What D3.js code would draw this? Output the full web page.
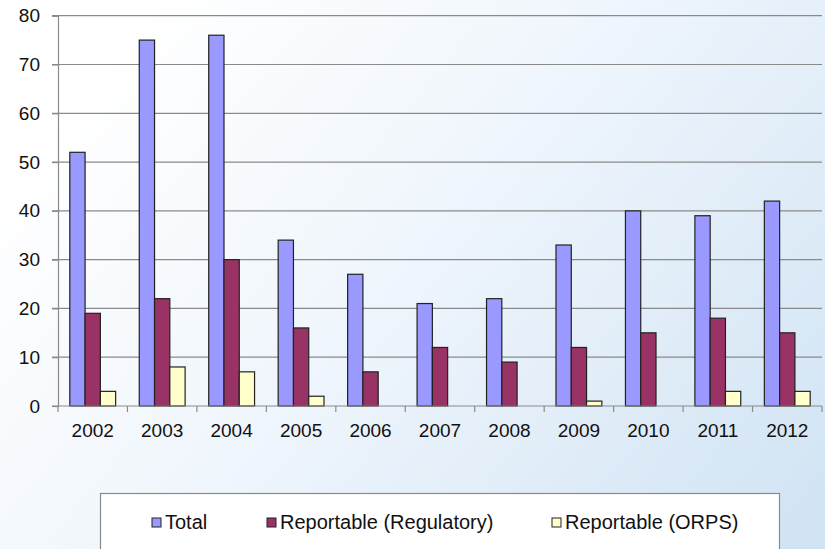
<!DOCTYPE html>
<html>
<head>
<meta charset="utf-8">
<script src="https://cdn.jsdelivr.net/npm/d3@7"></script>
<style>
  body { margin: 0; padding: 0; overflow: hidden; }
  svg { display: block; font-family: "Liberation Sans", Arial, sans-serif; }
</style>
</head>
<body>
<div id="bar-chart"></div>
<script>
// categories and series values
var years = ["2002", "2003", "2004", "2005", "2006", "2007", "2008", "2009", "2010", "2011", "2012"];
var total = [52, 75, 76, 34, 27, 21, 22, 33, 40, 39, 42];
var regulatory = [19, 22, 30, 16, 7, 12, 9, 12, 15, 18, 15];
var orps = [3, 8, 7, 2, 0, 0, 0, 1, 0, 3, 3];
var seriesNames = ["Total", "Reportable (Regulatory)", "Reportable (ORPS)"];
var yTicks = [0, 10, 20, 30, 40, 50, 60, 70, 80];

var colors = ["#9999ff", "#993366", "#ffffcc"];
var seriesValues = [total, regulatory, orps];

var width = 825, height = 549;
var margin = {top: 15.7, right: 3, bottom: 143, left: 58};

var svg = d3.select("#bar-chart").append("svg")
    .attr("width", width)
    .attr("height", height);

// background gradient
var defs = svg.append("defs");
var grad = defs.append("linearGradient")
    .attr("id", "bg")
    .attr("x1", "0").attr("y1", "0.35")
    .attr("x2", "1").attr("y2", "0.9");
grad.append("stop").attr("offset", "0").attr("stop-color", "#ffffff");
grad.append("stop").attr("offset", "0.45").attr("stop-color", "#eef5fc");
grad.append("stop").attr("offset", "1").attr("stop-color", "#d2e4f4");

svg.append("rect")
    .attr("width", width)
    .attr("height", height)
    .attr("fill", "url(#bg)");

// scales
var x0 = d3.scaleBand()
    .domain(years)
    .range([margin.left, width - margin.right])
    .paddingInner(0.34)
    .paddingOuter(0.17);

var x1 = d3.scaleBand()
    .domain(d3.range(seriesNames.length))
    .range([0, x0.bandwidth()]);

var y = d3.scaleLinear()
    .domain([0, 80])
    .range([height - margin.bottom, margin.top]);

// gridlines
svg.append("g")
    .selectAll("line")
    .data(yTicks.slice(1))
    .enter().append("line")
    .attr("x1", margin.left - 6)
    .attr("x2", width - margin.right)
    .attr("y1", function (d) { return y(d); })
    .attr("y2", function (d) { return y(d); })
    .attr("stroke", "#8a8a8a")
    .attr("stroke-width", 1.2);

// bars
var group = svg.append("g")
    .selectAll("g")
    .data(years)
    .enter().append("g")
    .attr("transform", function (d) { return "translate(" + x0(d) + ",0)"; });

group.selectAll("rect")
    .data(function (d, i) {
        return seriesValues.map(function (s, k) { return {k: k, v: s[i]}; });
    })
    .enter().append("rect")
    .filter(function (d) { return d.v > 0; })
    .attr("x", function (d) { return x1(d.k); })
    .attr("y", function (d) { return y(d.v); })
    .attr("width", x1.bandwidth())
    .attr("height", function (d) { return y(0) - y(d.v); })
    .attr("fill", function (d) { return colors[d.k]; })
    .attr("stroke", "#222")
    .attr("stroke-width", 1.2);

// Y axis
var yAxis = svg.append("g")
    .attr("transform", "translate(" + margin.left + ",0)")
    .call(d3.axisLeft(y).tickValues(yTicks).tickSize(6).tickPadding(12));
yAxis.select(".domain").attr("stroke", "#8a8a8a").attr("stroke-width", 1.2);
yAxis.selectAll(".tick line").attr("stroke", "#8a8a8a").attr("stroke-width", 1.2);
yAxis.selectAll("text")
    .attr("font-size", 19)
    .attr("font-family", "Liberation Sans, Arial, sans-serif")
    .attr("fill", "#111");

// X axis with ticks at category boundaries
var xAxisG = svg.append("g")
    .attr("transform", "translate(0," + y(0) + ")");
xAxisG.append("line")
    .attr("x1", margin.left - 6)
    .attr("x2", width - margin.right)
    .attr("stroke", "#8a8a8a")
    .attr("stroke-width", 1.2);
var step = x0.step();
xAxisG.selectAll(".bound")
    .data(d3.range(years.length + 1))
    .enter().append("line")
    .attr("x1", function (i) { return margin.left + i * step; })
    .attr("x2", function (i) { return margin.left + i * step; })
    .attr("y1", 0)
    .attr("y2", 6)
    .attr("stroke", "#8a8a8a")
    .attr("stroke-width", 1.2);
xAxisG.selectAll(".lbl")
    .data(years)
    .enter().append("text")
    .attr("x", function (d) { return x0(d) + x0.bandwidth() / 2; })
    .attr("y", 31)
    .attr("text-anchor", "middle")
    .attr("font-size", 19)
    .attr("fill", "#111")
    .text(function (d) { return d; });

// legend
var legend = svg.append("g");
legend.append("rect")
    .attr("x", 100.5)
    .attr("y", 493.5)
    .attr("width", 679)
    .attr("height", 80)
    .attr("fill", "#ffffff")
    .attr("stroke", "#8a8a8a")
    .attr("stroke-width", 1.2);

var legendX = [152, 267, 552];
var item = legend.selectAll(".item")
    .data(seriesNames)
    .enter().append("g")
    .attr("transform", function (d, i) { return "translate(" + legendX[i] + ",518)"; });
item.append("rect")
    .attr("width", 9)
    .attr("height", 9)
    .attr("fill", function (d, i) { return colors[i]; })
    .attr("stroke", "#222")
    .attr("stroke-width", 1);
item.append("text")
    .attr("x", 13)
    .attr("y", 11)
    .attr("font-size", 20)
    .attr("fill", "#111")
    .text(function (d) { return d; });
</script>
</body>
</html>
